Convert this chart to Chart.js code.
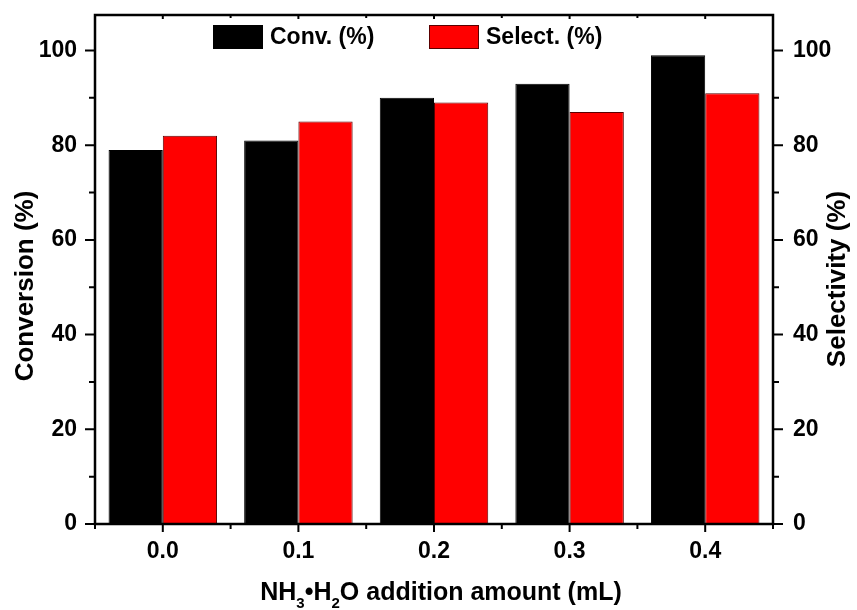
<!DOCTYPE html>
<html>
<head>
<meta charset="utf-8">
<script src="https://cdn.jsdelivr.net/npm/chart.js@4/dist/chart.umd.min.js"></script>
<style>
  html, body { margin: 0; padding: 0; background: #fff; }
  #wrap { width: 857px; height: 610px; }
</style>
</head>
<body>
<div id="wrap"><canvas id="myChart" width="857" height="610"></canvas></div>
<script>
const categories = ['0.0', '0.1', '0.2', '0.3', '0.4']
const convValues = [79, 81, 90, 93, 99]
const selectValues = [82, 85, 89, 87, 91]
const majorTicks = [0, 20, 40, 60, 80, 100]
const minorTicks = [10, 30, 50, 70, 90]

const FONT = '"Liberation Sans", Arial, sans-serif'

// frame, tick marks, axis titles and legend drawn on top
const decor = {
    id: 'decor',
    afterDraw(chart) {
        let ctx = chart.ctx
        let a = chart.chartArea
        let x = chart.scales.x
        let y = chart.scales.y
        ctx.save()
        ctx.strokeStyle = '#000'
        ctx.lineWidth = 2.5
        ctx.strokeRect(a.left, a.top, a.right - a.left, a.bottom - a.top)

        ctx.lineWidth = 2
        ctx.beginPath()
        // y ticks on both sides, outward
        majorTicks.forEach(v => {
            let py = y.getPixelForValue(v)
            ctx.moveTo(a.left, py); ctx.lineTo(a.left - 10, py)
            ctx.moveTo(a.right, py); ctx.lineTo(a.right + 10, py)
        })
        minorTicks.forEach(v => {
            let py = y.getPixelForValue(v)
            ctx.moveTo(a.left, py); ctx.lineTo(a.left - 6, py)
            ctx.moveTo(a.right, py); ctx.lineTo(a.right + 6, py)
        })
        // x ticks: bottom outward, top inward
        for (let i = 0; i < categories.length; i++) {
            let px = x.getPixelForValue(i)
            ctx.moveTo(px, a.bottom); ctx.lineTo(px, a.bottom + 8)
            ctx.moveTo(px, a.top); ctx.lineTo(px, a.top + 4)
        }
        for (let i = -0.5; i <= categories.length - 0.5; i++) {
            let px = x.getPixelForValue(i)
            ctx.moveTo(px, a.bottom); ctx.lineTo(px, a.bottom + 5)
            ctx.moveTo(px, a.top); ctx.lineTo(px, a.top + 3)
        }
        ctx.stroke()

        // y titles, both reading bottom to top
        ctx.fillStyle = '#000'
        ctx.font = 'bold 26px ' + FONT
        ctx.textAlign = 'center'
        ctx.textBaseline = 'middle'
        ctx.save()
        ctx.translate(26, 286)
        ctx.rotate(-Math.PI / 2)
        ctx.fillText('Conversion (%)', 0, 0)
        ctx.restore()
        ctx.save()
        ctx.translate(838, 279)
        ctx.rotate(-Math.PI / 2)
        ctx.fillText('Selectivity (%)', 0, 0)
        ctx.restore()

        // x title with subscripts
        let parts = [['NH', 0], ['3', 1], ['\u2022H', 0], ['2', 1], ['O addition amount (mL)', 0]]
        let big = 'bold 25px ' + FONT
        let small = 'bold 15px ' + FONT
        let total = 0
        parts.forEach(p => { ctx.font = p[1] ? small : big; total += ctx.measureText(p[0]).width })
        let tx = 441 - total / 2
        ctx.textAlign = 'left'
        ctx.textBaseline = 'alphabetic'
        parts.forEach(p => {
            ctx.font = p[1] ? small : big
            ctx.fillText(p[0], tx, p[1] ? 608 : 600)
            tx += ctx.measureText(p[0]).width
        })

        // legend inside the plot
        let ds = chart.data.datasets
        let spots = [213, 429]
        ctx.font = 'bold 23px ' + FONT
        ctx.textBaseline = 'middle'
        ds.forEach((d, i) => {
            ctx.fillStyle = d.backgroundColor
            ctx.fillRect(spots[i], 25, 50, 24)
            ctx.strokeStyle = d.borderColor
            ctx.lineWidth = 1
            ctx.strokeRect(spots[i] + 0.5, 25.5, 49, 23)
            ctx.fillStyle = '#000'
            ctx.fillText(d.label, spots[i] + 57, 38)
        })
        ctx.restore()
    }
}

function yAxis(pos, width, pad) {
    return {
        type: 'linear',
        position: pos,
        min: 0,
        max: 107.5,
        grid: { display: false, drawTicks: false },
        border: { display: false },
        ticks: {
            stepSize: 20,
            includeBounds: false,
            padding: pad,
            color: '#000',
            font: { family: FONT, weight: 'bold', size: 23 }
        },
        afterFit(scale) {
            scale.width = width
            scale.paddingTop = 0
            scale.paddingBottom = 0
        }
    }
}

function barChart(id) {
    const data = {
        labels: categories,
        datasets: [{
            label: 'Conv. (%)',
            data: convValues,
            backgroundColor: '#000000',
            borderColor: '#000000',
            borderWidth: 1,
            yAxisID: 'y'
        }, {
            label: 'Select. (%)',
            data: selectValues,
            backgroundColor: '#ff0000',
            borderColor: '#5a0000',
            borderWidth: 1,
            yAxisID: 'y1'
        }]
    }

    const config = {
        type: 'bar',
        data: data,
        options: {
            responsive: false,
            animation: false,
            layout: { padding: { top: 15 } },
            datasets: { bar: { categoryPercentage: 0.8, barPercentage: 1.0 } },
            plugins: { legend: { display: false }, tooltip: { enabled: false } },
            scales: {
                x: {
                    offset: true,
                    grid: { display: false, drawTicks: false },
                    border: { display: false },
                    ticks: {
                        padding: 14,
                        color: '#000',
                        font: { family: FONT, weight: 'bold', size: 23 }
                    },
                    afterFit(scale) {
                        scale.height = 86
                        scale.paddingLeft = 0
                        scale.paddingRight = 0
                    }
                },
                y: yAxis('left', 95, 18),
                y1: yAxis('right', 84, 20)
            }
        },
        plugins: [decor]
    }

    let ctx = document.getElementById(id).getContext('2d')
    new Chart(ctx, config)
}

barChart('myChart')
</script>
</body>
</html>
